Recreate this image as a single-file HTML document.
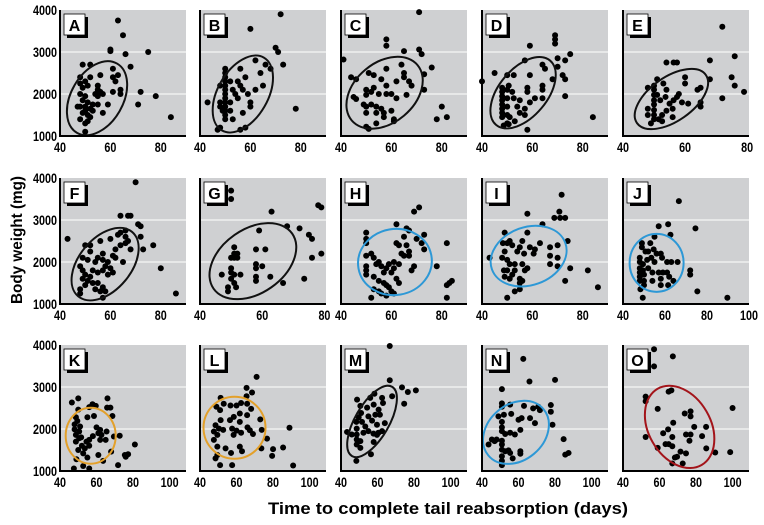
<!DOCTYPE html>
<html><head><meta charset="utf-8"><style>
body{margin:0;background:#fff;}
svg{display:block;font-family:"Liberation Sans Narrow","Liberation Sans",sans-serif;}
</style></head><body>
<svg id="chart" width="764" height="525" viewBox="0 0 764 525">
<text x="22" y="240" transform="rotate(-90 22 240)" text-anchor="middle" font-size="16" font-weight="bold" textLength="128" lengthAdjust="spacingAndGlyphs">Body weight (mg)</text>
<text x="448" y="514" text-anchor="middle" font-size="17" font-weight="bold" textLength="360" lengthAdjust="spacingAndGlyphs">Time to complete tail reabsorption (days)</text>
</svg>
<script>
const panelLabels=["A","B","C","D","E","F","G","H","I","J","K","L","M","N","O"];
const panelXMax=[90,90,90,90,80.6,90,80.5,90,90,100,109,109,109,109,109];
const yTicks=[1000,2000,3000,4000];
const ellipseCenters=[[54.7,1900],[57,2000],[57.3,2030],[56.3,2030],[55.6,1880],[57.9,1950],[57,2020],[61.4,2000],[58.5,2140],[56,1980],[56.8,1840],[58.9,2030],[57,2180],[58.6,1920],[71,2050]];
const ellipseColors=["#111","#111","#111","#111","#111","#111","#111","#2d98d6","#2d98d6","#2d98d6","#e3a02a","#e3a02a","#111","#2d98d6","#a3141a"];
const dataA=[[63,3750],[65,3400],[60,3060],[60,3020],[66,2950],[75,3000],[68,2650],[72,2050],[78,1950],[71,1750],[84,1450],[50,1100],[49,2700],[52,2700],[48,2400],[48,2250],[49,2150],[50,2300],[51,2200],[52,2400],[48,2000],[50,1950],[49,1850],[51,1800],[50,1700],[48,1700],[52,1650],[50,1600],[49,1550],[51,1500],[48,1400],[52,1450],[50,1300],[51,1350],[53,1750],[53,1600],[55,2100],[54,2000],[56,2050],[55,1950],[57,2000],[56,2450],[55,1750],[57,1550],[59,1750],[61,2600],[61,2400],[62,2300],[63,2450],[61,2050],[64,2000],[64,2100],[55,2200],[47,1700]];
const dataB=[[60,3550],[72,3900],[70,3100],[71,3000],[66,2700],[73,2700],[62,2800],[64,2500],[68,2600],[56,2600],[58,2400],[59,2000],[60,1800],[55,2300],[56,2200],[57,2100],[53,2100],[54,2000],[55,1900],[50,2600],[50,2500],[50,2400],[50,2300],[50,2200],[50,2100],[50,2000],[50,1900],[50,1800],[50,1700],[50,1600],[50,1500],[50,1400],[48,2200],[48,1800],[48,1700],[49,1600],[52,2300],[52,1800],[52,1600],[43,1800],[47,1150],[48,1200],[56,1150],[58,1200],[60,1700],[78,1650],[53,1400],[57,1550],[62,2100],[65,2200]];
const dataC=[[71,3950],[41,2820],[58,3300],[58,3150],[65,3020],[71,3060],[72,2950],[76,2630],[73,2470],[73,2100],[80,1700],[78,1400],[82,1450],[44,2400],[46,2350],[45,1930],[46,1880],[51,2500],[53,2450],[56,2350],[58,2600],[64,2700],[65,2500],[65,2400],[62,2300],[67,2300],[68,2200],[58,2200],[58,2000],[60,2000],[55,2000],[50,2100],[50,1980],[52,2050],[53,2150],[49,1750],[50,1700],[52,1750],[54,1700],[56,1650],[50,1550],[54,1550],[57,1550],[60,1600],[57,1450],[62,1900],[66,1980],[61,1350],[54,1300],[50,1220],[51,1170],[61,1400]];
const dataD=[[40,2300],[45,2500],[59,3150],[69,3400],[69,3300],[69,3200],[75,2950],[73,2800],[70,2850],[57,2800],[64,2700],[65,2600],[70,2650],[72,2450],[73,2350],[68,2350],[64,2200],[64,2100],[73,1950],[64,1900],[84,1450],[50,2450],[52.6,2450],[59,2450],[58,2150],[58,2050],[52,2050],[50.6,2200],[48,2150],[48,2050],[48,1950],[48,1850],[48,1750],[48,1650],[48,1550],[48,1450],[50,2100],[50,1900],[50,1700],[50,1500],[50,1300],[52.6,1900],[55,1850],[54,1700],[57,1650],[59,1800],[61,1900],[55,1550],[57,1500],[51,1450],[53,1350],[50.6,1280],[48.6,1250],[58,1150]];
const dataE=[[72,3600],[76,2900],[68,2800],[54,2750],[56.3,2750],[57.4,2750],[75,2400],[76,2200],[79,2050],[72,1900],[68,2350],[65,2150],[64,2100],[60,2400],[60,2250],[65,1800],[65,1700],[51,2350],[48,2150],[50,2200],[53,2250],[54,2100],[50,2100],[50,1980],[50,1850],[50,1750],[50,1620],[50,1500],[50,1400],[48,1650],[48,1500],[51,1980],[52,1850],[53.7,1930],[55,1770],[56.3,1850],[57.4,1930],[58,2000],[56,1650],[54,1600],[52.6,1500],[56,1450],[51.5,1400],[49,1300],[52.6,1350],[59,1800],[61,1770]];
const dataF=[[70,3900],[43,2550],[64,3100],[67,3100],[68,3100],[71,2900],[72,2850],[72,2600],[73,2300],[77,2400],[80,1850],[86,1250],[57,1150],[48,1250],[48,1350],[50,2400],[52,2400],[52,2250],[49,2100],[51,2050],[54,2000],[56,2500],[57,2200],[55,2100],[57,2050],[59,2000],[61,2150],[62,2100],[60,2550],[63,2650],[64,2700],[66,2750],[66,2600],[67,2500],[66,2450],[64,2400],[62,2300],[65,2000],[68,2300],[58,1900],[60,1850],[61,1750],[59,1700],[57,1800],[55,1750],[53,1800],[52,1650],[50,1700],[49,1600],[51,1550],[53,1500],[49,1800],[48,1900],[55,1500],[57,1400],[54,1350],[56,1300],[58,1300],[50,1450]];
const dataG=[[50,3700],[50,3500],[63,3200],[78,3350],[79,3300],[72,2800],[68,2850],[75,2650],[76,2550],[76,2100],[79,2200],[73.5,1600],[66.7,1500],[62.6,1650],[59,2750],[58,2300],[61,2300],[60,1900],[58,1850],[58,1650],[58,1550],[47,1700],[49,1400],[49,1300],[51,2350],[51,2200],[52,2200],[51,2100],[52,2100],[50,1850],[50,1750],[51,1700],[50,1600],[51,1500],[51.6,1400],[53,1700],[50,2100],[58,1950]];
const dataH=[[50,2700],[50,2550],[50,2450],[50,2150],[50,1900],[50,1800],[50,1700],[52,2200],[53,2100],[54,1950],[55,2000],[56,1900],[57,1750],[58,1850],[59,1950],[60,1750],[61,1850],[53,1650],[55,1550],[57,1500],[59,1400],[58,1450],[55,1300],[53,1350],[52,1150],[56,1250],[58,1200],[60,1300],[61,1250],[62,2450],[62,2900],[63,2400],[65,2600],[64,2200],[65,2150],[66,2800],[67,2750],[69,3200],[71,3300],[66,2400],[67,2250],[67,2150],[68,1800],[69,1900],[70,2550],[72,2450],[73,2650],[73,2300],[78,1900],[82,2450],[82,1450],[83,1500],[84,1550],[82,1150],[62,1600],[63,1500],[61,2000],[63,1950]];
const dataI=[[43,2100],[49,2700],[58,3150],[64,2900],[71.6,3600],[70.7,3200],[68.7,3050],[71,3050],[73,3050],[74,2500],[75,1850],[82,1800],[86,1400],[73,1550],[70,1900],[67,1950],[67,2350],[67,2150],[70,2100],[70,2400],[63,2450],[61,2300],[60.5,2200],[59,2350],[58,2700],[56,2500],[56.7,2200],[56,1950],[58,1850],[57,1800],[55,2350],[54,2250],[48.3,2450],[50,2450],[51,2500],[52,2400],[49,2250],[48,2100],[50,2050],[51,1950],[53,1950],[48.7,1800],[50,1800],[52,1700],[53,1800],[49,1650],[51,1600],[55,1600],[56,1550],[55,1500],[55,1350],[53,1300],[50,1150]];
const dataJ=[[66.6,3450],[61.5,2900],[57,2850],[74.5,2800],[62.6,2650],[55,2600],[53,2450],[49,2450],[49,2350],[50.7,2250],[52,2250],[54.6,2300],[56,2200],[58,2200],[58.6,2100],[61,2000],[63,2000],[66,2000],[55,2000],[53.5,2100],[51.5,2050],[48,2100],[48,2000],[48,1850],[48,1750],[48,1650],[48,1550],[49.5,1950],[49.5,1800],[50,1700],[50,1550],[52,1850],[54,1750],[57,1750],[59,1750],[61,1750],[62,1650],[58,1600],[54,1550],[58,1450],[61.5,1450],[64,1550],[72,1800],[72,1700],[48.3,1350],[49.4,1150],[75.4,1300],[89.7,1150],[50,1450]];
const dataK=[[46.5,2630],[50,2730],[66,2730],[65.8,2510],[67.6,2510],[68.7,2310],[57.8,2590],[59.6,2550],[56,2520],[55,2280],[58.6,2310],[50,2460],[48.7,2280],[49.5,2190],[48,2110],[51,2060],[48,1990],[50.5,1940],[48.7,1860],[50.5,1780],[48.7,1700],[52,1600],[54.5,1700],[56,1740],[58,1830],[60,2040],[62,1980],[61,1900],[62.7,1860],[65.5,1940],[65,1740],[69.5,1820],[72.7,1840],[62,1740],[56,1600],[53.6,1540],[50,1500],[52.7,1420],[55,1320],[61,1380],[63.6,1240],[49,1280],[47.6,1060],[52.7,1120],[56,1060],[71.8,1140],[75.5,1380],[77.3,1400],[76,1340],[81,1630],[68,1460],[51.6,1800]];
const dataL=[[71,3240],[65.5,2980],[68.5,2870],[65.5,2780],[51.3,2740],[49,2530],[51,2450],[53,2600],[56.7,2560],[60,2560],[62.5,2620],[65.8,2600],[68,2480],[61.8,2370],[65.8,2330],[58.5,2290],[56.4,2210],[61.8,2170],[73,2230],[51.3,2210],[48.5,2090],[50.4,2010],[47.6,1940],[49.5,1860],[52.7,1980],[57.6,2010],[60,1960],[58.4,1860],[62.5,1910],[66,2040],[67.3,1970],[73.8,1980],[47.6,1740],[49.5,1580],[54,1540],[49.5,1380],[48.5,1300],[51,1140],[57.6,1140],[57,1430],[61.8,1580],[63,1470],[73.6,1540],[76.7,1770],[80,1520],[79.5,1360],[85.5,1560],[89,2030],[91,1130],[69,1880]];
const dataM=[[66.7,4000],[66.7,3160],[73.4,2990],[76.6,2880],[81,2920],[74.6,2600],[68,2780],[62.5,2740],[58.3,2840],[56,2740],[48.8,2700],[50.6,2550],[54.3,2510],[57.9,2580],[60.6,2460],[63,2620],[61.3,2340],[58.8,2340],[55,2300],[51,2380],[49.7,2280],[48.4,2170],[51.5,2170],[57,2200],[64,2140],[59.7,2100],[62.5,1950],[60.5,1910],[57.8,1890],[55,1950],[52.3,1910],[48.6,2010],[48.6,1870],[43.3,1930],[48.6,1750],[50.6,1710],[48.6,1630],[50.6,1550],[57.9,1690],[59.7,1860],[56.4,1400],[48.4,1240],[53.3,2060],[45.9,1870]];
const dataN=[[62.6,3670],[66,3130],[80,3170],[50.9,2950],[50.9,2610],[50.9,2530],[55.4,2580],[63,2550],[70.8,2530],[71.7,2450],[77.7,2570],[77.7,2410],[78.6,2100],[68,2490],[66.3,2260],[69,2140],[61.7,2260],[60,2220],[56,2360],[52,2340],[49,2300],[50.9,2170],[50.9,2040],[50.9,1950],[52.7,1880],[55.4,1910],[61,1980],[58,1870],[48,1750],[45.4,1750],[43.6,1630],[46.9,1710],[50.9,1720],[50.9,1630],[50.9,1510],[52.7,1470],[55.4,1430],[61,1470],[61,1410],[50.9,1350],[50.9,1240],[50.9,1140],[56.8,1300],[84.7,1760],[85.6,1390],[87.4,1430],[54.5,1490]];
const dataO=[[57,3900],[67.3,3730],[57,3490],[65,2890],[66.5,2920],[52.4,2770],[52.4,2660],[59,2480],[73.8,2370],[77,2420],[77,2300],[100,2500],[67.5,2150],[64.7,1990],[62,1900],[67,1810],[74.5,1870],[77,1870],[79,2050],[85.5,2050],[83.3,1830],[76.4,1720],[52.4,1810],[63.3,1640],[65,1640],[67,1590],[59,1550],[85.6,1540],[90.5,1440],[98.7,1450],[71.5,1460],[74.5,1420],[69.6,1340],[67,1180],[72.7,1180],[68.4,1320]];
const allData=[dataA,dataB,dataC,dataD,dataE,dataF,dataG,dataH,dataI,dataJ,dataK,dataL,dataM,dataN,dataO];

const NS="http://www.w3.org/2000/svg";
const svg=document.getElementById('chart');
const colLeft=[60,200,341,482,623], rowTop=[10,178,345], PW=126, PH=126;
const ell=[[40,26,-60],[42,25,-60],[43,30,-40],[42,24,-50],[42,22,-35],[42,26,-50],[48,32,-35],[37,33,-10],[39,29,-20],[27,29,0],[25,28,0],[31,31,0],[40,17,-60],[36,28,-40],[44,31,60]];
function mk(tag,attrs,parent){const e=document.createElementNS(NS,tag);for(const k in attrs)e.setAttribute(k,attrs[k]);(parent||svg).appendChild(e);return e;}
panelLabels.forEach((lab,i)=>{
  const r=Math.floor(i/5), c=i%5, L=colLeft[c], T=rowTop[r], xmax=panelXMax[i];
  const xs=v=>L+(v-40)/(xmax-40)*PW;
  const ys=v=>T+PH-(v-1000)/3000*PH;
  const g=mk('g',{});
  
  
  const bg=mk('rect',{x:L,y:T,width:PW,height:PH,fill:'#cfd0d2'},g);
  
  
  [2000,3000].forEach(v=>{const gl=mk('line',{x1:L,x2:L+PW,y1:ys(v),y2:ys(v),stroke:'#fff','stroke-width':1},g);
    
    });
  allData[i].forEach(p=>{if(p[0]>xmax||p[1]>4050)return;const d=mk('circle',{cx:xs(p[0]),cy:Math.max(T+1,ys(p[1])),r:3,fill:'#000'},g);
    
    });
  const ec=ellipseCenters[i], e=ell[i];
  const el=mk('ellipse',{cx:xs(ec[0]),cy:ys(ec[1]),rx:e[0],ry:e[1],fill:'none',stroke:ellipseColors[i],'stroke-width':2,transform:`rotate(${e[2]} ${xs(ec[0])} ${ys(ec[1])})`},g);
  
  
  const ax=mk('path',{d:`M${L},${T} V${T+PH} H${L+PW}`,fill:'none',stroke:'#000','stroke-width':2},g);
  
  
  mk('rect',{x:L+7,y:T+7,width:21,height:21,fill:'#000'},g);
  const lb=mk('rect',{x:L+4,y:T+4,width:21,height:21,fill:'#fff',stroke:'#000','stroke-width':0.8},g);
  
  
  const lt=mk('text',{x:L+14.5,y:T+21,'text-anchor':'middle','font-size':16,'font-weight':'bold'},g);
  lt.textContent=lab;
  
  
  const xt=[40,60,80,100].filter(v=>v<=xmax+0.7);
  xt.forEach(v=>{const t=mk('text',{x:xs(v),y:T+PH+16,'text-anchor':'middle','font-size':14,'font-weight':'bold',textLength:String(v).length*6,lengthAdjust:'spacingAndGlyphs'},g);t.textContent=v;
    
    });
  if(c===0) yTicks.forEach(v=>{const t=mk('text',{x:L-3,y:ys(v)+5,'text-anchor':'end','font-size':14,'font-weight':'bold',textLength:24,lengthAdjust:'spacingAndGlyphs'},g);t.textContent=v;
    
    });
});
</script>
</body></html>
